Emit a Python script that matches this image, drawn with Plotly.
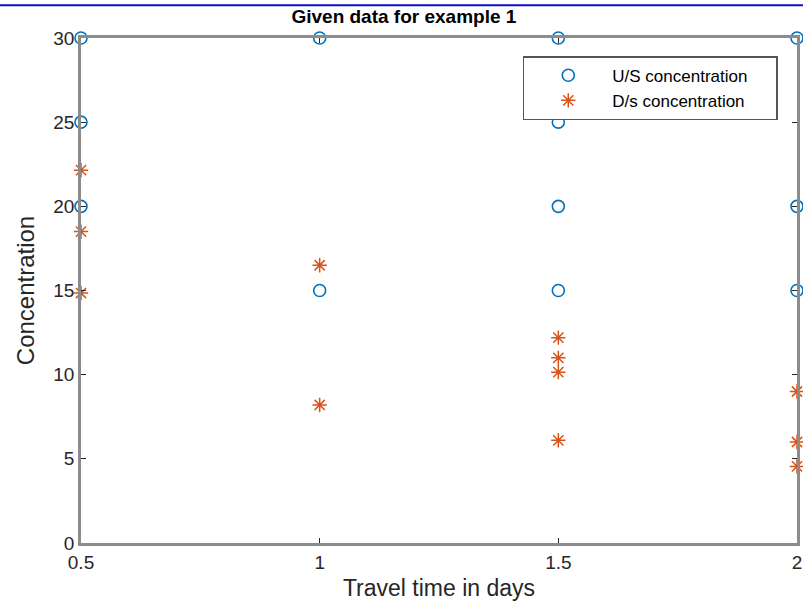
import plotly.graph_objects as go

# U/S concentration
us_x = [0.5, 0.5, 0.5, 1, 1, 1.5, 1.5, 1.5, 1.5, 2, 2, 2]
us_y = [30, 25, 20, 30, 15, 30, 25, 20, 15, 30, 20, 15]
# D/s concentration
ds_x = [0.5, 0.5, 0.5, 1, 1, 1.5, 1.5, 1.5, 1.5, 2, 2, 2]
ds_y = [22.15, 18.5, 14.85, 16.5, 8.2, 12.2, 11.0, 10.15, 6.1, 9.0, 6.0, 4.55]

x_ticks = [0.5, 1, 1.5, 2]
x_ticklabels = ["0.5", "1", "1.5", "2"]
y_ticks = [0, 5, 10, 15, 20, 25, 30]

FONT = "Liberation Sans, Arial, sans-serif"
TXT = "#262626"
AX = "#8c8c8c"
PAD = "&nbsp;" * 5

fig = go.Figure()
fig.add_trace(go.Scatter(
    x=us_x, y=us_y, mode="markers", name="U/S concentration" + PAD,
    marker=dict(symbol="circle-open", size=12, color="#0072BD", line=dict(width=1.6)),
    cliponaxis=False,
))
fig.add_trace(go.Scatter(
    x=ds_x, y=ds_y, mode="markers", name="D/s concentration" + PAD,
    marker=dict(symbol="asterisk-open", size=12, color="#D95319", line=dict(width=1.5, color="#D95319")),
    cliponaxis=False,
))

axis_common = dict(
    showgrid=False, zeroline=False, showline=True, linecolor=AX, linewidth=2.5,
    mirror="ticks", ticks="inside", ticklen=5, tickwidth=1, tickcolor=TXT,
    tickfont=dict(family=FONT, size=19, color=TXT), automargin=False,
)

fig.update_layout(
    width=803, height=601,
    margin=dict(l=81, r=6, t=38, b=58),
    paper_bgcolor="white", plot_bgcolor="white",
    title=dict(text="<b>Given data for example 1</b>", x=0.503, xanchor="center",
               y=0.972, yanchor="middle",
               font=dict(family=FONT, size=19, color="black")),
    xaxis=dict(range=[0.5, 2], tickvals=x_ticks, ticktext=x_ticklabels,
               title=dict(text="Travel time in days", font=dict(family=FONT, size=23, color=TXT), standoff=10),
               **axis_common),
    yaxis=dict(range=[0, 30], tickvals=y_ticks,
               title=dict(text="Concentration", font=dict(family=FONT, size=24, color=TXT), standoff=12),
               **axis_common),
    legend=dict(x=0.617, y=0.964, xanchor="left", yanchor="top",
                bordercolor="#555555", borderwidth=1.5, bgcolor="white",
                font=dict(family=FONT, size=17, color="black"),
                itemwidth=78, tracegroupgap=0),
    showlegend=True,
)

# thin blue line across the top of the image
fig.add_shape(type="line", xref="paper", yref="paper", x0=-0.2, x1=1.1,
              y0=1.065, y1=1.065, line=dict(color="#1010c0", width=2))

fig.write_html("out.html")
